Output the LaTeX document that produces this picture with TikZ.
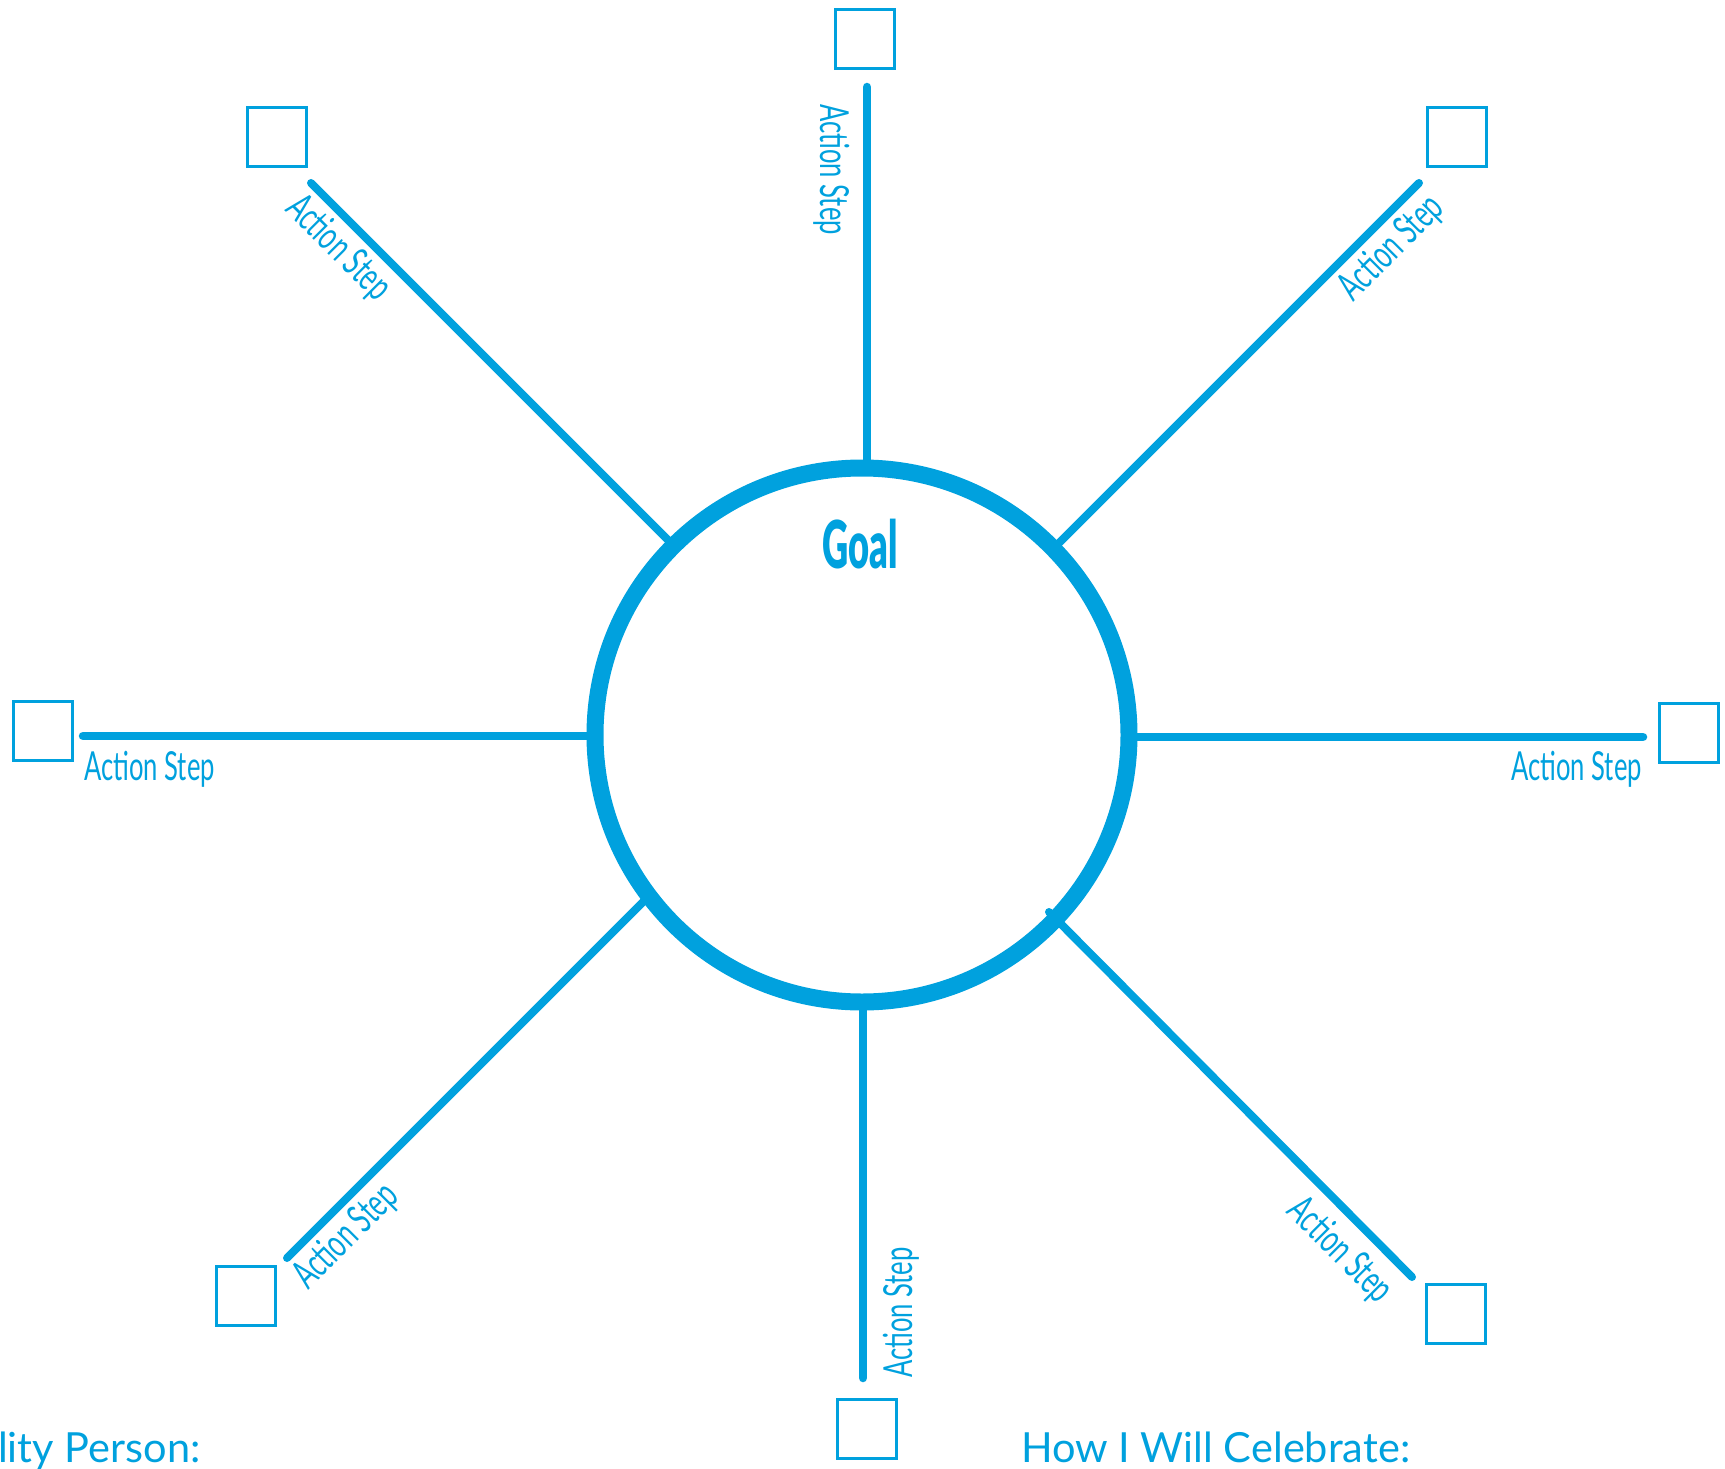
\documentclass[tikz,border=0pt]{standalone}
\usepackage{fontspec}
\setmainfont{Lato}
\newfontfamily\condfont[FakeStretch=0.64]{Lato}
\newfontfamily\goalfont[FakeStretch=0.55]{Lato Black}
\definecolor{gblue}{RGB}{0,161,222}
\tikzset{
  spoke/.style={draw=gblue, line width=8.5pt, line cap=round},
  ring/.style={circle, draw=gblue, line width=17pt, minimum size=534pt, inner sep=0pt, outer sep=0pt},
  checkbox/.style={draw=gblue, line width=3pt, minimum size=59pt, inner sep=0pt},
  steplabel/.style={text=gblue, font=\condfont\fontsize{40}{40}\selectfont, inner sep=0pt},
  footlabel/.style={text=gblue, font=\fontsize{41.5}{41.5}\selectfont, inner sep=0pt, anchor=base west},
}
\begin{document}
\begin{tikzpicture}[x=1pt,y=-1pt]
\useasboundingbox (0,0) rectangle (1725,1469);
% spoke end points
\coordinate (tA) at (867,87);    \coordinate (tB) at (867,462);
\coordinate (lA) at (83,736);    \coordinate (lB) at (598,736);
\coordinate (rA) at (1643,737);  \coordinate (rB) at (1128,737);
\coordinate (bA) at (863,1378);  \coordinate (bB) at (863,1000);
\coordinate (tlA) at (311,183);  \coordinate (tlB) at (674,546);
\coordinate (trA) at (1419,183); \coordinate (trB) at (1053,549);
\coordinate (blA) at (287,1258); \coordinate (blB) at (648,897);
\coordinate (brA) at (1412,1277);\coordinate (brB) at (1049,912);
% spokes
\draw[spoke] (tA) -- (tB);
\draw[spoke] (lA) -- (lB);
\draw[spoke] (rA) -- (rB);
\draw[spoke] (bA) -- (bB);
\draw[spoke, line width=8pt] (tlA) -- (tlB);
\draw[spoke, line width=8pt] (trA) -- (trB);
\draw[spoke, line width=8pt] (blA) -- (blB);
\draw[spoke, line width=8pt] (brA) -- (brB);
% goal ring
\node[ring] (goalring) at (862,735) {};
\node[text=gblue, font=\goalfont\fontsize{66}{66}\selectfont, inner sep=0pt, anchor=base] (goal) at (860,568) {Goal};
% check boxes
\node[checkbox] (boxT)  at (865,39) {};
\node[checkbox] (boxTL) at (277,137.5) {};
\node[checkbox] (boxTR) at (1456.5,137.5) {};
\node[checkbox] (boxL)  at (43,731) {};
\node[checkbox] (boxR)  at (1688.5,732.5) {};
\node[checkbox] (boxBL) at (245.5,1296) {};
\node[checkbox] (boxB)  at (867,1428.5) {};
\node[checkbox] (boxBR) at (1456,1314) {};
% labels
\node[steplabel, rotate=-90, anchor=base west] (labT) at (820,104) {Action Step};
\node[steplabel, rotate=90, anchor=base west] (labB) at (912,1378) {Action Step};
\node[steplabel, anchor=base west] (labL) at (84,780) {Action Step};
\node[steplabel, anchor=base east] (labR) at (1642,780) {Action Step};
\node[steplabel, rotate=-45, anchor=base west] (labTL) at (284,210) {Action Step};
\node[steplabel, rotate=45, anchor=base east] (labTR) at (1446,210) {Action Step};
\node[steplabel, rotate=45, anchor=base west] (labBL) at (308,1291) {Action Step};
\node[steplabel, rotate=-45, anchor=base east] (labBR) at (1378,1305) {Action Step};
% footer
\node[footlabel] (acc) at (-2,1462) {lity Person:};
\node[footlabel] (cel) at (1021,1462) {How I Will Celebrate:};
\end{tikzpicture}
\end{document}
